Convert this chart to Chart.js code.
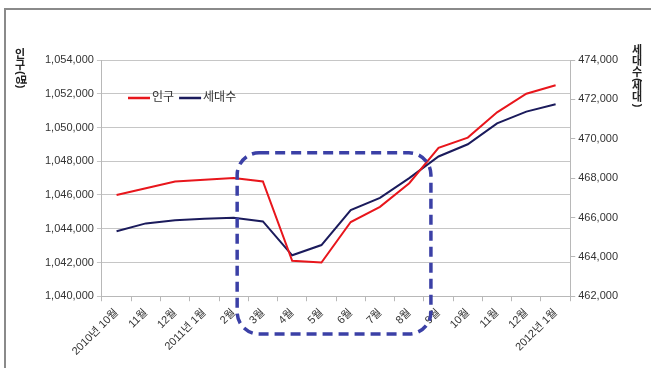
<!DOCTYPE html>
<html>
<head>
<meta charset="utf-8">
<script src="https://cdn.jsdelivr.net/npm/chart.js@4.4.1/dist/chart.umd.min.js"></script>
<style>
  body { margin: 0; background: #fff; }
  #wrap { position: relative; width: 651px; height: 368px; overflow: hidden; background: #fff; }
  #frame { position: absolute; left: 4px; top: 8px; width: 700px; height: 400px; border: 2px solid #8a8a8a; box-sizing: border-box; }
  #chart { position: absolute; left: 0; top: 0; }
</style>
</head>
<body>
<div id="wrap">
  <div id="frame"></div>
  <canvas id="chart" width="651" height="368"></canvas>
</div>
<script>
  const months = ['2010년 10월', '11월', '12월', '2011년 1월', '2월', '3월', '4월', '5월', '6월', '7월', '8월', '9월', '10월', '11월', '12월', '2012년 1월'];
  const population = [1046000, 1046400, 1046800, 1046900, 1047000, 1046800, 1042100, 1042000, 1044400, 1045300, 1046700, 1048800, 1049400, 1050900, 1052000, 1052500];
  const households = [465300, 465700, 465860, 465940, 465990, 465800, 464080, 464600, 466380, 467000, 468000, 469100, 469720, 470780, 471380, 471750];
  const popTicks = [1040000, 1054000, 2000];
  const hhTicks = [462000, 474000, 2000];
  const leftTitle = ['인', '구', '(명)'];
  const rightTitle = ['세', '대', '수', '(', '세', '대', ')'];

  // highlighted period (category index range, left axis values)
  const highlight = { from: 4.12, to: 10.74, top: 1048500, bottom: 1037760 };

  const fontFamily = '"Liberation Sans", "Noto Sans CJK KR", sans-serif';

  const highlightBox = {
    id: 'highlightBox',
    afterDatasetsDraw(chart) {
      const ctx = chart.ctx;
      const x = chart.scales.x, y = chart.scales.y;
      const l = x.getPixelForValue(highlight.from), r = x.getPixelForValue(highlight.to);
      const t = y.getPixelForValue(highlight.top), b = y.getPixelForValue(highlight.bottom);
      ctx.save();
      ctx.strokeStyle = '#3b40a6';
      ctx.lineWidth = 3.5;
      ctx.setLineDash([10, 6]);
      ctx.beginPath();
      ctx.roundRect(l, t, r - l, b - t, 22);
      ctx.stroke();
      ctx.restore();
    }
  };

  const innerLegend = {
    id: 'innerLegend',
    afterDraw(chart) {
      const ctx = chart.ctx;
      let x = 128;
      const y = 98;
      ctx.save();
      ctx.font = '12px ' + fontFamily;
      ctx.textBaseline = 'middle';
      chart.data.datasets.forEach(ds => {
        ctx.strokeStyle = ds.borderColor;
        ctx.lineWidth = 2.5;
        ctx.beginPath();
        ctx.moveTo(x, y);
        ctx.lineTo(x + 22, y);
        ctx.stroke();
        ctx.fillStyle = '#333';
        ctx.fillText(ds.label, x + 24, y);
        x += 24 + ctx.measureText(ds.label).width + 5;
      });
      ctx.restore();
    }
  };

  // stacked vertical axis titles, Korean upright, brackets turned
  function drawStack(ctx, parts, cx, top) {
    let y = top;
    parts.forEach(p => {
      const upright = !/[()]/.test(p);
      if (upright) {
        ctx.fillText(p, cx, y + 5.5);
        y += 11;
      } else {
        const w = ctx.measureText(p).width;
        ctx.save();
        ctx.translate(cx, y + w / 2);
        ctx.rotate(Math.PI / 2);
        ctx.fillText(p, 0, 0);
        ctx.restore();
        y += w;
      }
    });
  }

  const axisTitles = {
    id: 'axisTitles',
    afterDraw(chart) {
      const ctx = chart.ctx;
      ctx.save();
      ctx.fillStyle = '#222';
      ctx.textAlign = 'center';
      ctx.textBaseline = 'middle';
      ctx.font = 'bold 11px ' + fontFamily;
      drawStack(ctx, leftTitle, 20, 49);
      drawStack(ctx, rightTitle, 637, 45);
      ctx.restore();
    }
  };

  new Chart(document.getElementById('chart'), {
    type: 'line',
    data: {
      labels: months,
      datasets: [
        { label: '인구', data: population, borderColor: '#e8161c', borderWidth: 2, pointRadius: 0, yAxisID: 'y', tension: 0 },
        { label: '세대수', data: households, borderColor: '#1b1b5c', borderWidth: 2, pointRadius: 0, yAxisID: 'y1', tension: 0 }
      ]
    },
    options: {
      responsive: false,
      animation: false,
      layout: { padding: { left: 42, right: 30, top: 60, bottom: 5 } },
      plugins: { legend: { display: false }, tooltip: { enabled: false } },
      scales: {
        x: {
          offset: true,
          grid: { offset: true, drawOnChartArea: false, tickLength: 5, color: '#b8b8b8' },
          border: { color: '#b8b8b8' },
          ticks: { minRotation: 45, maxRotation: 45, autoSkip: false, color: '#333', font: { family: fontFamily, size: 11 }, padding: 5 }
        },
        y: {
          position: 'left',
          min: popTicks[0], max: popTicks[1],
          grid: { color: '#c6c6c6', tickLength: 5 },
          border: { color: '#b8b8b8' },
          ticks: { stepSize: popTicks[2], color: '#333', font: { family: fontFamily, size: 11 }, padding: 3,
                   callback: v => v.toLocaleString('en-US') }
        },
        y1: {
          position: 'right',
          min: hhTicks[0], max: hhTicks[1],
          grid: { drawOnChartArea: false, tickLength: 5, color: '#b8b8b8' },
          border: { color: '#b8b8b8' },
          ticks: { stepSize: hhTicks[2], color: '#333', font: { family: fontFamily, size: 11 }, padding: 3,
                   callback: v => v.toLocaleString('en-US') }
        }
      }
    },
    plugins: [highlightBox, innerLegend, axisTitles]
  });
</script>
</body>
</html>
